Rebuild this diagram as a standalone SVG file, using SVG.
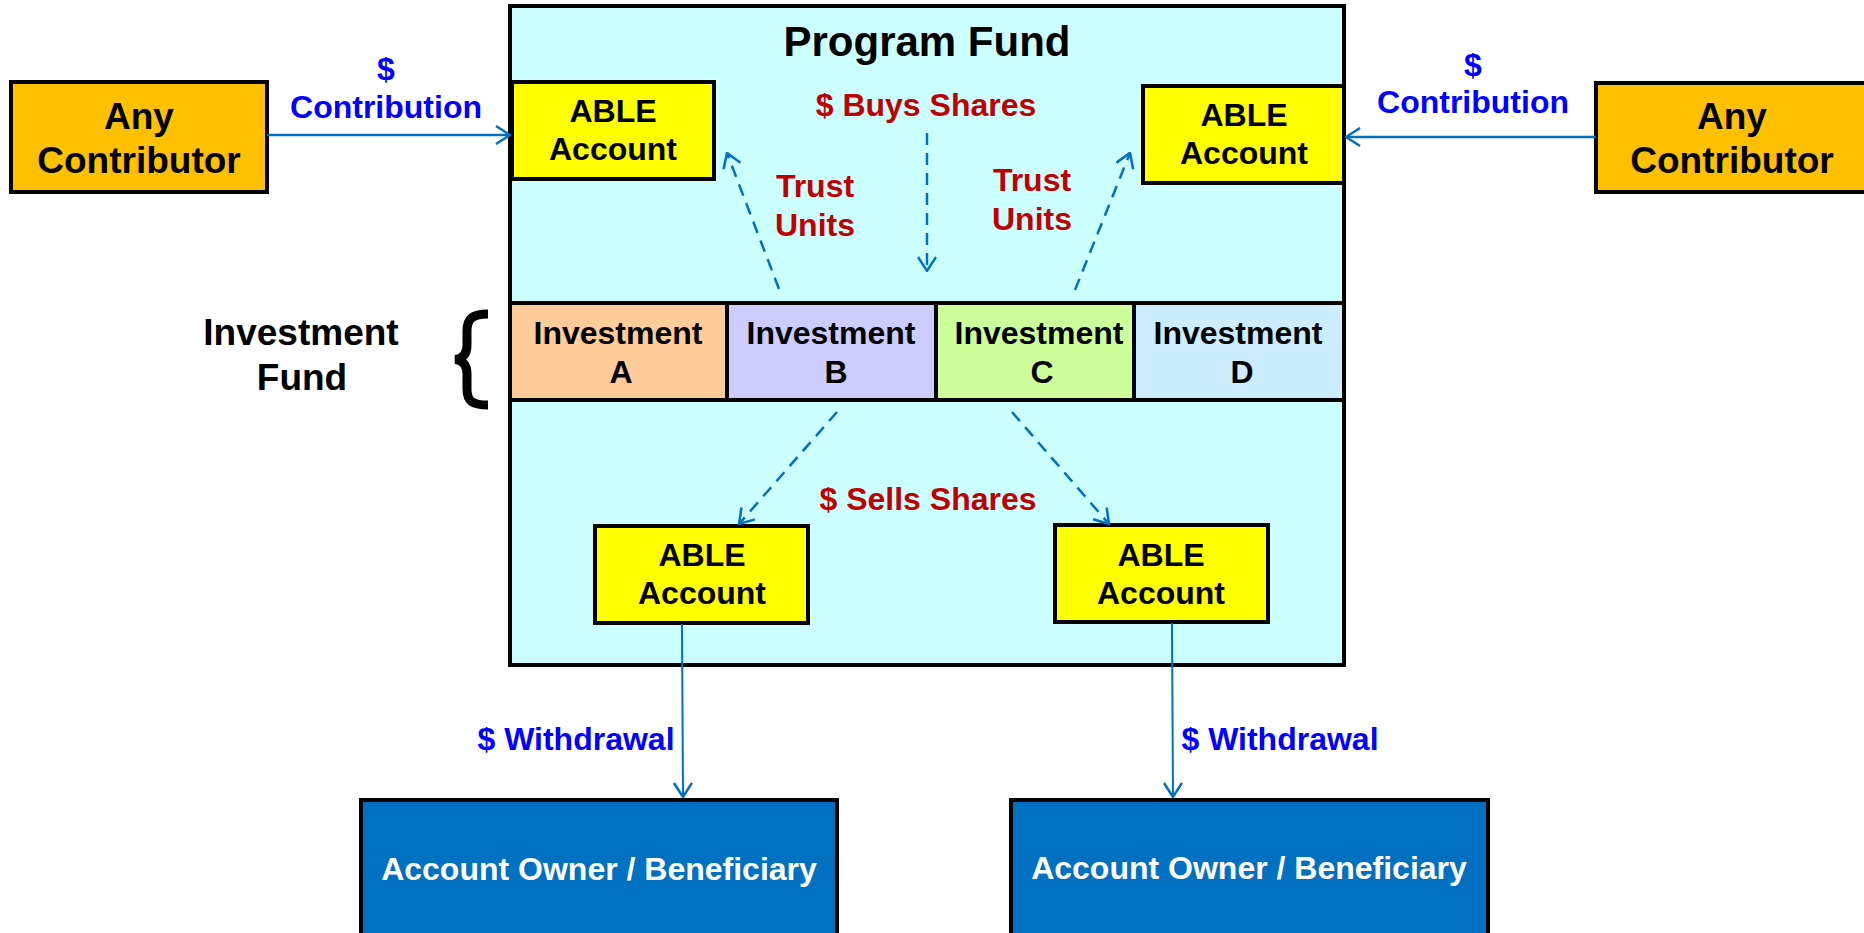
<svg xmlns="http://www.w3.org/2000/svg" width="1864" height="933" viewBox="0 0 1864 933">
<style>
text{font-family:"Liberation Sans",Arial,sans-serif;font-weight:bold;text-anchor:middle}
.box{stroke:#000;stroke-width:4}
.t36{font-size:37px;fill:#000}
.t31{font-size:32px;fill:#000}
.red{font-size:32px;fill:#C00000}
.blue{font-size:32px;fill:#0000FF}
.white{font-size:32px;fill:#FFFFFF}
.solid{stroke:#0070C0;stroke-width:2.5;fill:none}
.dash{stroke:#0070C0;stroke-width:2.5;fill:none;stroke-dasharray:12 8}
</style>
<defs>
<marker id="arr" viewBox="0 0 16 20" refX="15" refY="10" markerWidth="16" markerHeight="20" markerUnits="userSpaceOnUse" orient="auto">
<path d="M1,1 L15,10 L1,19" fill="none" stroke="#0070C0" stroke-width="2.5" stroke-dasharray="none"/>
</marker>
</defs>
<rect width="1864" height="933" fill="#FFFFFF"/>

<g id="program-fund">
<rect class="box" x="510" y="6" width="834" height="659" fill="#CCFFFF"/>
<text x="927" y="56" style="font-size:42px">Program Fund</text>
</g>

<g id="contributor-left">
<rect class="box" x="11" y="82" width="256" height="110" fill="#FFC000"/>
<text class="t36" x="139" y="129">Any</text>
<text class="t36" x="139" y="173">Contributor</text>
</g>

<g id="contributor-right">
<rect class="box" x="1596" y="83" width="275" height="109" fill="#FFC000"/>
<text class="t36" x="1732" y="129">Any</text>
<text class="t36" x="1732" y="173">Contributor</text>
</g>

<g id="able-top-left">
<rect class="box" x="512" y="82" width="202" height="97" fill="#FFFF00"/>
<text class="t31" x="613" y="122">ABLE</text>
<text class="t31" x="613" y="160">Account</text>
</g>

<g id="able-top-right">
<rect class="box" x="1143" y="86" width="201" height="97" fill="#FFFF00"/>
<text class="t31" x="1244" y="126">ABLE</text>
<text class="t31" x="1244" y="164">Account</text>
</g>

<g id="investment-a">
<rect class="box" x="510" y="303" width="217" height="97" fill="#FFCC99"/>
<text class="t31" x="618" y="344">Investment</text>
<text class="t31" x="621" y="383">A</text>
</g>
<g id="investment-b">
<rect class="box" x="727" y="303" width="209" height="97" fill="#CCCCFF"/>
<text class="t31" x="831" y="344">Investment</text>
<text class="t31" x="836" y="383">B</text>
</g>
<g id="investment-c">
<rect class="box" x="936" y="303" width="198" height="97" fill="#CCFF99"/>
<text class="t31" x="1039" y="344">Investment</text>
<text class="t31" x="1042" y="383">C</text>
</g>
<g id="investment-d">
<rect class="box" x="1134" y="303" width="210" height="97" fill="#CCECFF"/>
<text class="t31" x="1238" y="344">Investment</text>
<text class="t31" x="1242" y="383">D</text>
</g>

<g id="investment-fund-label">
<text class="t36" x="301" y="345">Investment</text>
<text class="t36" x="302" y="390">Fund</text>
<path d="M488,314 C472,314 467,319 467,331 L467,345 C467,354 463,359 455,359.5 C463,360 467,365 467,374 L467,389 C467,401 472,405 488,405" fill="none" stroke="#000" stroke-width="9"/>
</g>

<g id="able-bottom-left">
<rect class="box" x="595" y="526" width="213" height="97" fill="#FFFF00"/>
<text class="t31" x="702" y="566">ABLE</text>
<text class="t31" x="702" y="604">Account</text>
</g>

<g id="able-bottom-right">
<rect class="box" x="1055" y="525" width="213" height="97" fill="#FFFF00"/>
<text class="t31" x="1161" y="566">ABLE</text>
<text class="t31" x="1161" y="604">Account</text>
</g>

<g id="owner-left">
<rect class="box" x="361" y="800" width="476" height="145" fill="#0070C0"/>
<text class="white" x="599" y="880">Account Owner / Beneficiary</text>
</g>

<g id="owner-right">
<rect class="box" x="1011" y="800" width="477" height="145" fill="#0070C0"/>
<text class="white" x="1249" y="879">Account Owner / Beneficiary</text>
</g>

<g id="connectors">
<line class="solid" x1="267" y1="135" x2="510" y2="135" marker-end="url(#arr)"/>
<line class="solid" x1="1596" y1="137" x2="1346" y2="137" marker-end="url(#arr)"/>
<line class="dash" x1="927" y1="133" x2="927" y2="271" marker-end="url(#arr)"/>
<line class="dash" x1="779" y1="289" x2="727" y2="153" marker-end="url(#arr)"/>
<line class="dash" x1="1075" y1="290" x2="1130" y2="153" marker-end="url(#arr)"/>
<line class="dash" x1="837" y1="412" x2="739" y2="524" marker-end="url(#arr)"/>
<line class="dash" x1="1012" y1="412" x2="1109" y2="524" marker-end="url(#arr)"/>
<line class="solid" x1="682" y1="624" x2="683" y2="797" marker-end="url(#arr)" style="stroke-width:2"/>
<line class="solid" x1="1172" y1="623" x2="1173" y2="797" marker-end="url(#arr)" style="stroke-width:2"/>
</g>

<g id="labels">
<text class="blue" x="386" y="80">$</text>
<text class="blue" x="386" y="118">Contribution</text>
<text class="blue" x="1473" y="76">$</text>
<text class="blue" x="1473" y="113">Contribution</text>
<text class="red" x="926" y="116">$ Buys Shares</text>
<text class="red" x="815" y="197">Trust</text>
<text class="red" x="815" y="236">Units</text>
<text class="red" x="1032" y="191">Trust</text>
<text class="red" x="1032" y="230">Units</text>
<text class="red" x="928" y="510">$ Sells Shares</text>
<text class="blue" x="576" y="750">$ Withdrawal</text>
<text class="blue" x="1280" y="750">$ Withdrawal</text>
</g>
</svg>
